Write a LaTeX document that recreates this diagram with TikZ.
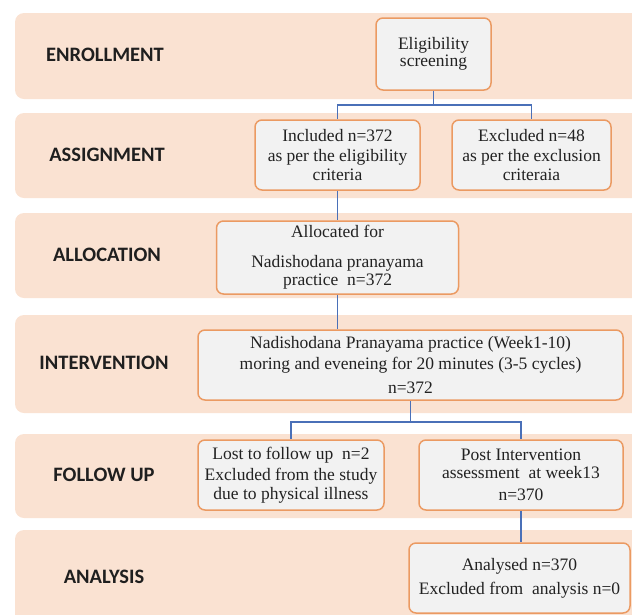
\documentclass[tikz,border=0pt]{standalone}
\usepackage{fontspec}
\setmainfont{Liberation Serif}
\newfontfamily\stagefont{Carlito}
\usepackage{tikz}

\definecolor{bandfill}{HTML}{FAE2D2}
\definecolor{boxfill}{HTML}{F2F2F2}
\definecolor{boxline}{HTML}{EB9A62}
\definecolor{linkblue}{HTML}{4A70B8}
\definecolor{textgray}{HTML}{222222}
\newcommand{\boxtext}{\fontsize{17.5}{20}\selectfont}

\begin{document}
\begin{tikzpicture}[
		x=1pt, y=-1pt,
		every node/.style={rectangle, draw=boxline, fill=boxfill, line width=1.5pt, rounded corners=7pt,
			align=center, inner sep=2pt, font=\boxtext, text=textgray},
		stage/.style={draw=none, fill=none, font=\stagefont\bfseries\fontsize{20.5}{24}\selectfont, text=black!88},
		link/.style={draw=linkblue, line width=1.2pt}
	]
  \useasboundingbox (0,0) rectangle (632,614);
  \foreach \ya/\yb in {13/99, 113/198, 213/298, 315/413, 434/518, 530/650}
    \fill[bandfill, rounded corners=9pt] (15,\ya) rectangle (680,\yb);

  \node (s_enrol) [stage] at (105,55) {ENROLLMENT};
  \node (s_assign) [stage] at (107,155) {ASSIGNMENT};
  \node (s_alloc) [stage] at (107,255) {ALLOCATION};
  \node (s_interv) [stage] at (104,363) {INTERVENTION};
  \node (s_follow) [stage] at (104,475) {FOLLOW UP};
  \node (s_analysis) [stage] at (104,577) {ANALYSIS};

  \node (elig) [minimum width=115pt, minimum height=72pt] at (433.5,54) {Eligibility\\[-3pt]screening};
  \node (incl) [minimum width=165pt, minimum height=70pt] at (337.5,155) {Included n=372\\as per the eligibility\\[-1pt]criteria};
  \node (excl) [minimum width=159pt, minimum height=70pt] at (531.5,155) {Excluded n=48\\as per the exclusion\\[-1pt]criteraia};
  \node (alloc) [minimum width=242pt, minimum height=73pt] at (337.5,257.5) {Allocated for\\[10pt]Nadishodana pranayama\\[-2pt]practice~~n=372};
  \node (interv) [minimum width=425pt, minimum height=70pt] at (410.5,365) {Nadishodana Pranayama practice (Week1-10)\\[1pt]moring and eveneing for 20 minutes (3-5 cycles)\\[4pt]n=372};
  \node (lost) [minimum width=186pt, minimum height=70pt] at (291,475) {Lost to follow up~~n=2\\[1pt]Excluded from the study\\[-1pt]due to physical illness};
  \node (post) [minimum width=204pt, minimum height=70pt] at (521,475) {Post Intervention\\[-2pt]assessment~~at week13\\[2pt]n=370};
  \node (ana) [minimum width=221pt, minimum height=70pt] at (519.5,578) {Analysed n=370\\[4pt]Excluded from~~analysis n=0};

  \coordinate (split_a) at (433.5,105);
  \coordinate (split_b) at (410.5,422);
  \draw [link] (elig) -- (split_a);
  \draw [link] (split_a) -| (incl);
  \draw [link] (split_a) -| (excl);
  \draw [link] (incl) -- (alloc);
  \draw [link] (alloc) -- (alloc |- interv.north);
  \draw [link] (interv) -- (split_b);
  \draw [link] (split_b) -| (lost);
  \draw [link] (split_b) -| (post);
  \draw [link] (post) -- (post |- ana.north);
\end{tikzpicture}
\end{document}
